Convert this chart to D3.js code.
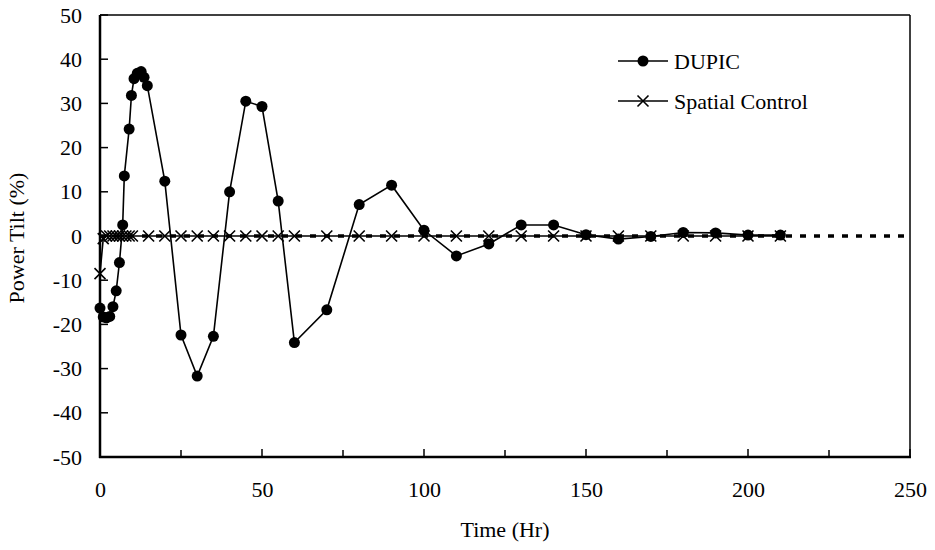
<!DOCTYPE html>
<html>
<head>
<meta charset="utf-8">
<script src="https://cdn.jsdelivr.net/npm/d3@7"></script>
<style>
  html, body { margin: 0; padding: 0; background: #fff; }
  svg { display: block; }
  text { font-family: "Liberation Serif", "Times New Roman", serif; fill: #000; }
</style>
</head>
<body>
<div id="chart"></div>
<script>
// ---- data ----
const dupicTime  = [0, 1, 2, 3, 4, 5, 6, 7, 7.5, 9, 9.7, 10.5, 11.5, 12.7, 13.6, 14.6, 20, 25, 30, 35, 40, 45, 50, 55, 60, 70, 80, 90, 100, 110, 120, 130, 140, 150, 160, 170, 180, 190, 200, 210];
const dupicTilt  = [-16.3, -18.3, -18.5, -18.2, -16, -12.4, -6, 2.5, 13.6, 24.2, 31.8, 35.6, 36.8, 37.2, 35.9, 34, 12.4, -22.4, -31.7, -22.7, 10, 30.5, 29.3, 7.9, -24.1, -16.7, 7.1, 11.5, 1.3, -4.5, -1.8, 2.5, 2.5, 0.3, -0.7, -0.1, 0.8, 0.7, 0.2, 0.2];
const spatialTime = [0, 1, 2, 3, 4, 5, 6, 7, 8, 9, 10, 15, 20, 25, 30, 35, 40, 45, 50, 55, 60, 70, 80, 90, 100, 110, 120, 130, 140, 150, 160, 170, 180, 190, 200, 210];
const spatialTilt = [-8.5, -0.6, 0, 0, 0, 0, 0, 0, 0, 0, 0, 0, 0, 0, 0, 0, 0, 0, 0, 0, 0, 0, 0, 0, 0, 0, 0, 0, 0, 0, 0, 0, 0, 0, 0, 0];
const xTicks = [0, 50, 100, 150, 200, 250];
const xMinorTicks = [25, 75, 125, 175, 225];
const yTicks = [-50, -40, -30, -20, -10, 0, 10, 20, 30, 40, 50];
const seriesNames = ["DUPIC", "Spatial Control"];
const xTitle = "Time (Hr)";
const yTitle = "Power Tilt (%)";

// ---- layout ----
const W = 935, H = 550;
const L = 100, R = 910, T = 15, B = 457;
const FS = "22px";

const svg = d3.select("#chart").append("svg").attr("width", W).attr("height", H);

const x = d3.scaleLinear().domain([0, 250]).range([L, R]);
const y = d3.scaleLinear().domain([-50, 50]).range([B, T]);

// frame (top & right)
svg.append("line").attr("x1", L).attr("x2", R).attr("y1", T).attr("y2", T)
  .attr("stroke", "#000").attr("stroke-width", 1.5);
svg.append("line").attr("x1", R).attr("x2", R).attr("y1", T).attr("y2", B)
  .attr("stroke", "#000").attr("stroke-width", 1.5);

// zero reference dashed line
svg.append("line").attr("x1", x(0)).attr("x2", x(250)).attr("y1", y(0)).attr("y2", y(0))
  .attr("stroke", "#000").attr("stroke-width", 3.5).attr("stroke-dasharray", "6,8");

// y axis
const yAxis = d3.axisLeft(y).tickValues(yTicks).tickSize(0).tickPadding(18).tickFormat(d => String(d));
const gy = svg.append("g").attr("transform", `translate(${L},0)`).call(yAxis);
gy.select(".domain").remove();
gy.selectAll("text").style("font-size", FS).style("font-family", "Liberation Serif");
svg.append("g").selectAll("line").data(yTicks).join("line")
  .attr("x1", L).attr("x2", L + 8).attr("y1", d => y(d)).attr("y2", d => y(d))
  .attr("stroke", "#000").attr("stroke-width", 1.5);

// x axis
const xAxis = d3.axisBottom(x).tickValues(xTicks).tickSize(0).tickPadding(24).tickFormat(d => String(d));
const gx = svg.append("g").attr("transform", `translate(0,${B})`).call(xAxis);
gx.select(".domain").remove();
gx.selectAll("text").style("font-size", FS).style("font-family", "Liberation Serif");
svg.append("g").selectAll("line").data(xTicks.concat(xMinorTicks)).join("line")
  .attr("x1", d => x(d)).attr("x2", d => x(d)).attr("y1", B).attr("y2", d => xTicks.includes(d) ? B - 8 : B - 7)
  .attr("stroke", "#000").attr("stroke-width", 1.5);

// axis lines (thicker)
svg.append("line").attr("x1", L).attr("x2", L).attr("y1", T).attr("y2", B + 1)
  .attr("stroke", "#000").attr("stroke-width", 2.5);
svg.append("line").attr("x1", L - 1).attr("x2", R + 1).attr("y1", B).attr("y2", B)
  .attr("stroke", "#000").attr("stroke-width", 2.5);

// titles
svg.append("text").attr("x", (L + R) / 2).attr("y", 537).attr("text-anchor", "middle")
  .style("font-size", FS).text(xTitle);
svg.append("text").attr("transform", `translate(24,${(T + B) / 2 + 2}) rotate(-90)`)
  .attr("text-anchor", "middle").style("font-size", FS).text(yTitle);

// series
const line = d3.line().x(d => x(d[0])).y(d => y(d[1]));
const spatialData = spatialTime.map((t, i) => [t, spatialTilt[i]]);
const dupicData = dupicTime.map((t, i) => [t, dupicTilt[i]]);

const xMark = (g, cx, cy, s) => g.append("path")
  .attr("d", `M${cx - s},${cy - s}L${cx + s},${cy + s}M${cx - s},${cy + s}L${cx + s},${cy - s}`)
  .attr("stroke", "#000").attr("stroke-width", 1.6).attr("fill", "none");

svg.append("path").datum(spatialData).attr("d", line)
  .attr("fill", "none").attr("stroke", "#000").attr("stroke-width", 1.6);
const gS = svg.append("g");
spatialData.forEach(d => xMark(gS, x(d[0]), y(d[1]), 5.5));

svg.append("path").datum(dupicData).attr("d", line)
  .attr("fill", "none").attr("stroke", "#000").attr("stroke-width", 1.6);
svg.append("g").selectAll("circle").data(dupicData).join("circle")
  .attr("cx", d => x(d[0])).attr("cy", d => y(d[1])).attr("r", 5.5).attr("fill", "#000");

// legend
const lg = svg.append("g");
const legY = [61, 101];
lg.append("line").attr("x1", 618).attr("x2", 668).attr("y1", legY[0]).attr("y2", legY[0])
  .attr("stroke", "#000").attr("stroke-width", 1.6);
lg.append("circle").attr("cx", 643).attr("cy", legY[0]).attr("r", 5.5).attr("fill", "#000");
lg.append("line").attr("x1", 618).attr("x2", 668).attr("y1", legY[1]).attr("y2", legY[1])
  .attr("stroke", "#000").attr("stroke-width", 1.6);
xMark(lg, 643, legY[1], 5.5);
seriesNames.forEach((n, i) => {
  lg.append("text").attr("x", 674).attr("y", legY[i]).attr("dy", "0.35em")
    .style("font-size", FS).text(n);
});
</script>
</body>
</html>
